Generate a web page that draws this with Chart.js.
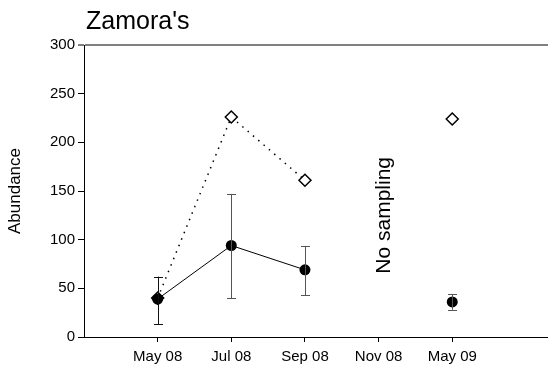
<!DOCTYPE html>
<html>
<head>
<meta charset="utf-8">
<script src="https://cdn.jsdelivr.net/npm/chart.js@4/dist/chart.umd.min.js"></script>
<style>
html,body{margin:0;padding:0;background:#fff;}
#wrap{width:548px;height:372px;}
</style>
</head>
<body>
<div id="wrap"><canvas id="c" width="548" height="372"></canvas></div>
<script>
const categories = ["May 08", "Jul 08", "Sep 08", "Nov 08", "May 09"];
const circleMeans = [39, 94, 69, null, 36];
const circleLow = [13, 40, 43, null, 28];
const circleHigh = [62, 147, 93, null, 44];
const diamondValues = [40, 226, 161, null, 224];
const yTicks = [0, 50, 100, 150, 200, 250, 300];
const titleText = "Zamora's";
const yTitle = "Abundance";
const noteText = "No sampling";
const notePosition = {x: 4.08, y: 125};

const FONT = "'Liberation Sans', Arial, sans-serif";

function toPoints(vals){
  return vals.map((v,i)=>({x:i+1, y:v}));
}

const errorBarPlugin = {
  id: 'errorBars',
  afterDatasetsDraw(chart){
    const ctx = chart.ctx, xs = chart.scales.x, ys = chart.scales.y;
    ctx.save();
    ctx.lineWidth = 1;
    categories.forEach((c,i)=>{
      if (circleMeans[i] == null) return;
      ctx.strokeStyle = i === 0 ? '#111' : '#555';
      const px = Math.round(xs.getPixelForValue(i+1)) + 0.5;
      const pl = ys.getPixelForValue(circleLow[i]);
      const ph = ys.getPixelForValue(circleHigh[i]);
      const cap = 4.5;
      ctx.beginPath();
      ctx.moveTo(px, pl); ctx.lineTo(px, ph);
      ctx.moveTo(px-cap, Math.round(pl)+0.5); ctx.lineTo(px+cap, Math.round(pl)+0.5);
      ctx.moveTo(px-cap, Math.round(ph)+0.5); ctx.lineTo(px+cap, Math.round(ph)+0.5);
      ctx.stroke();
    });
    ctx.restore();
  }
};

const textPlugin = {
  id: 'texts',
  afterDraw(chart){
    const ctx = chart.ctx, xs = chart.scales.x, ys = chart.scales.y;
    ctx.save();
    ctx.fillStyle = '#000';
    ctx.font = '25px ' + FONT;
    ctx.textAlign = 'left';
    ctx.textBaseline = 'alphabetic';
    ctx.fillText(titleText, 86, 29);
    ctx.translate(xs.getPixelForValue(notePosition.x), ys.getPixelForValue(notePosition.y));
    ctx.rotate(-Math.PI/2);
    ctx.font = '21px ' + FONT;
    ctx.textAlign = 'center';
    ctx.textBaseline = 'middle';
    ctx.fillText(noteText, 0, 0);
    ctx.restore();
  }
};

new Chart(document.getElementById('c'), {
  type: 'scatter',
  data: {
    datasets: [
      {
        label: 'circles',
        data: toPoints(circleMeans),
        showLine: true,
        spanGaps: false,
        borderColor: '#000',
        borderWidth: 1,
        pointStyle: 'circle',
        pointRadius: 5.5,
        pointBackgroundColor: '#000',
        pointBorderColor: '#000',
        pointBorderWidth: 0
      },
      {
        label: 'diamonds',
        data: toPoints(diamondValues),
        showLine: true,
        spanGaps: false,
        borderColor: '#000',
        borderWidth: 1.5,
        borderDash: [1.5, 5.5],
        pointStyle: 'rectRot',
        pointRadius: 6,
        pointBackgroundColor: '#fff',
        pointBorderColor: '#000',
        pointBorderWidth: 1.5
      }
    ]
  },
  options: {
    responsive: false,
    animation: false,
    events: [],
    layout: {autoPadding: false, padding: {top: 45, left: 0, right: 0, bottom: 0}},
    plugins: {legend: {display: false}, tooltip: {enabled: false}, title: {display: false}},
    scales: {
      x: {
        type: 'linear',
        min: 0,
        max: 6.3,
        afterFit(s){ s.height = 35; },
        afterBuildTicks(s){ s.ticks = categories.map((c,i)=>({value:i+1})); },
        ticks: {
          color: '#000',
          font: {family: FONT, size: 15},
          padding: 6,
          autoSkip: false,
          maxRotation: 0,
          callback: (v)=> categories[v-1] ?? ''
        },
        grid: {drawOnChartArea: false, tickLength: 5, tickColor: '#000', tickWidth: 1},
        border: {color: '#000', width: 1}
      },
      y: {
        min: 0,
        max: 300,
        afterFit(s){ s.width = 84; },
        afterBuildTicks(s){ s.ticks = yTicks.map(v=>({value:v})); },
        ticks: {
          color: '#000',
          font: {family: FONT, size: 15},
          padding: 3
        },
        grid: {
          drawOnChartArea: true,
          color: (c)=> (c.tick && c.tick.value === 300) ? '#808080' : 'rgba(0,0,0,0)',
          lineWidth: (c)=> (c.tick && c.tick.value === 300) ? 2 : 1,
          tickLength: 6,
          tickColor: '#000',
          tickWidth: 1
        },
        border: {color: '#000', width: 1},
        title: {
          display: true,
          text: yTitle,
          color: '#000',
          font: {family: FONT, size: 17},
          padding: {top: 5, bottom: 4}
        }
      }
    }
  },
  plugins: [errorBarPlugin, textPlugin]
});
</script>
</body>
</html>
